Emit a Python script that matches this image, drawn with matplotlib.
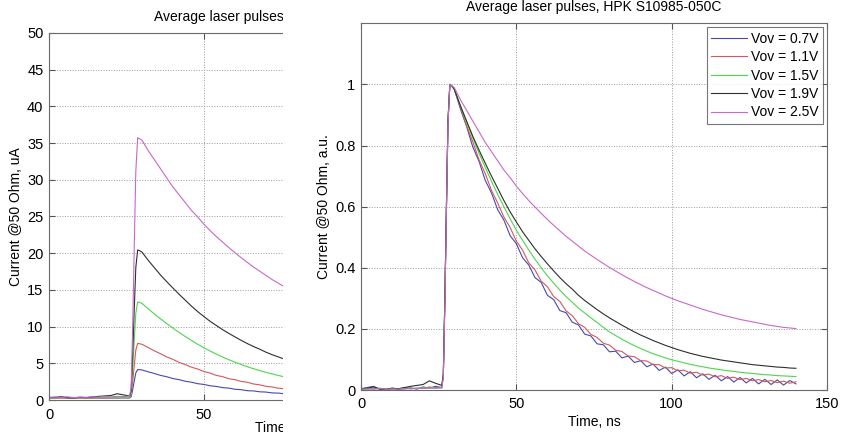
import matplotlib.pyplot as plt
from matplotlib.patches import Rectangle

plt.rcParams['font.family'] = ['Liberation Sans', 'DejaVu Sans']

# ===================== Datos =====================

# tiempo (ns): linea base, flanco de subida, cola
t_base = [0, 2, 4, 6, 8, 10, 12, 14, 16, 18, 20, 22, 24, 26]
t_rise = [26.5, 27, 27.5, 28, 28.6, 29.2]
t_tail = [30, 32, 34, 36, 38, 40, 42, 44, 46, 48, 50, 52, 54, 56, 58, 60,
          62, 64, 66, 68, 70, 72, 74, 76, 78, 80, 82, 84, 86, 88, 90, 92,
          94, 96, 98, 100, 102, 104, 106, 108, 110, 112, 114, 116, 118, 120,
          122, 124, 126, 128, 130, 132, 134, 136, 138, 140]
time_ns = t_base + t_rise + t_tail

labels = ['Vov = 0.7V', 'Vov = 1.1V', 'Vov = 1.5V', 'Vov = 1.9V', 'Vov = 2.5V']
colors = ['#4848b0', '#d05a5a', '#4cd64c', '#2e2e2e', '#c868c8']

# amplitud de pico (uA) y nivel de base del panel izquierdo
peak_ua = [3.9, 7.45, 13.1, 20.2, 35.5]
offset_ua = 0.25

# pulsos normalizados
v07 = ([0.004, 0.008, 0.012, 0.003, 0.0, 0.006, 0.002, 0.004, 0.007, 0.003, 0.01, 0.006, 0.012, 0.008]
       + [0.05, 0.3, 0.6, 0.88, 1.0, 0.995]
       + [.985, .92, .862, .795, .748, .686, .645, .59, .556, .505, .479, .433, .409, .368, .352, .31,
          .296, .26, .253, .222, .213, .183, .177, .151, .148, .125, .127, .105, .111, .09, .096, .076,
          .085, .064, .075, .054, .066, .046, .06, .04, .053, .035, .048, .03, .044, .026,
          .041, .023, .038, .02, .035, .018, .033, .016, .031, .02])
v11 = ([0.002, 0.005, 0.003, 0.006, 0.002, 0.004, 0.003, 0.008, 0.004, 0.006, 0.005, 0.01, 0.006, 0.009]
       + [0.05, 0.3, 0.6, 0.88, 1.0, 0.995]
       + [.985, .925, .864, .812, .753, .708, .653, .612, .566, .532, .487, .458, .416, .393, .356, .338,
          .306, .29, .259, .243, .217, .205, .182, .172, .153, .147, .13, .126, .111, .109, .096, .095,
          .083, .083, .072, .073, .063, .065, .055, .058, .049, .052, .043, .047, .038, .042,
          .034, .038, .03, .034, .027, .031, .024, .029, .022, .027])
v15 = ([0.003, 0.002, 0.006, 0.003, 0.004, 0.002, 0.005, 0.003, 0.006, 0.004, 0.007, 0.005, 0.008, 0.006]
       + [0.05, 0.3, 0.6, 0.88, 1.0, 0.995]
       + [.985, .93, .875, .825, .775, .728, .683, .64, .60, .56, .523, .49, .458, .428, .40, .374,
          .35, .327, .306, .287, .268, .252, .236, .221, .205, .19, .178, .166, .155, .145, .136, .127,
          .119, .112, .105, .099, .094, .089, .084, .08, .076, .072, .069, .066, .063, .061,
          .058, .056, .054, .052, .05, .049, .047, .046, .045, .044])
v19 = ([0.004, 0.006, 0.01, 0.003, 0.002, 0.006, 0.004, 0.008, 0.012, 0.015, 0.018, 0.03, 0.022, 0.015]
       + [0.05, 0.3, 0.6, 0.88, 1.0, 0.995]
       + [.985, .93, .88, .83, .785, .742, .70, .66, .62, .583, .55, .518, .49, .462, .437, .413,
          .39, .368, .348, .33, .31, .293, .278, .263, .249, .236, .224, .212, .201, .19, .18, .171,
          .162, .154, .146, .139, .132, .126, .12, .115, .11, .106, .102, .098, .095, .092,
          .089, .086, .083, .081, .079, .077, .075, .074, .072, .071])
v25 = ([0.003, 0.004, 0.003, 0.005, 0.002, 0.004, 0.003, 0.005, 0.004, 0.006, 0.005, 0.007, 0.006, 0.008]
       + [0.04, 0.28, 0.58, 0.87, 1.0, 0.995]
       + [.99, .95, .915, .88, .845, .81, .78, .75, .72, .695, .667, .643, .62, .599, .578, .558,
          .539, .521, .503, .487, .471, .455, .441, .427, .414, .401, .389, .377, .366, .355, .345, .335,
          .326, .317, .308, .300, .292, .285, .278, .271, .264, .258, .252, .246, .241, .236,
          .231, .227, .223, .219, .215, .211, .208, .205, .203, .201])
pulses = [v07, v11, v15, v19, v25]

title = 'Average laser pulses, HPK S10985-050C'


def style_axes(ax):
    ax.grid(True, linestyle=':', color='#9a9a9a', linewidth=0.7)
    ax.tick_params(direction='in', length=4, top=True, right=True,
                   labelsize=10.5, color='#555555', pad=4)
    for s in ax.spines.values():
        s.set_color('#6a6a6a')
        s.set_linewidth(0.8)


# ===================== Figura =====================

fig = plt.figure(figsize=(8.44, 4.36), dpi=100)

# panel izquierdo (uA), recortado por la derecha
ax1 = fig.add_axes([49 / 844, 36 / 436, 465 / 844, 367 / 436], zorder=0)
for v, a, c in zip(pulses, peak_ua, colors):
    ax1.plot(time_ns, [x * a + offset_ua for x in v], color=c, linewidth=0.8)
ax1.set_xlim(0, 150)
ax1.set_ylim(0, 50)
ax1.set_xticks([0, 50, 100, 150])
ax1.set_xticklabels(['0', '50', '', ''])
ax1.set_yticks(range(0, 51, 5))
ax1.set_title(title, fontsize=10, pad=9)
ax1.set_xlabel('Time, ns', fontsize=10, labelpad=-1)
ax1.set_ylabel('Current @50 Ohm, uA', fontsize=10, labelpad=3)
style_axes(ax1)
ax1.tick_params(axis='x', pad=6)

# recorte blanco
fig.add_artist(Rectangle((283 / 844, 0), 1, 1, transform=fig.transFigure,
                         facecolor='white', edgecolor='none', zorder=1))

# panel derecho (normalizado)
ax2 = fig.add_axes([361 / 844, 46 / 436, 466 / 844, 366.7 / 436], zorder=2)
for v, c, lab in zip(pulses, colors, labels):
    ax2.plot(time_ns, v, color=c, linewidth=0.8, label=lab)
ax2.set_xlim(0, 150)
ax2.set_ylim(0, 1.2)
ax2.set_xticks([0, 50, 100, 150])
ax2.set_yticks([0, 0.2, 0.4, 0.6, 0.8, 1])
ax2.set_yticklabels(['0', '0.2', '0.4', '0.6', '0.8', '1'])
ax2.set_title(title, fontsize=10, pad=9)
ax2.set_xlabel('Time, ns', fontsize=10, labelpad=3)
ax2.set_ylabel('Current @50 Ohm, a.u.', fontsize=10, labelpad=3)
style_axes(ax2)
ax2.tick_params(axis='x', pad=5)

leg = ax2.legend(loc='upper right', fontsize=10, frameon=True, fancybox=False,
                 handlelength=2.6, handletextpad=0.3, labelspacing=0.32,
                 borderpad=0.3, borderaxespad=0.3)
leg.get_frame().set_edgecolor('#555555')
leg.get_frame().set_linewidth(0.8)

fig.savefig('out.png', dpi=100, facecolor='white')
